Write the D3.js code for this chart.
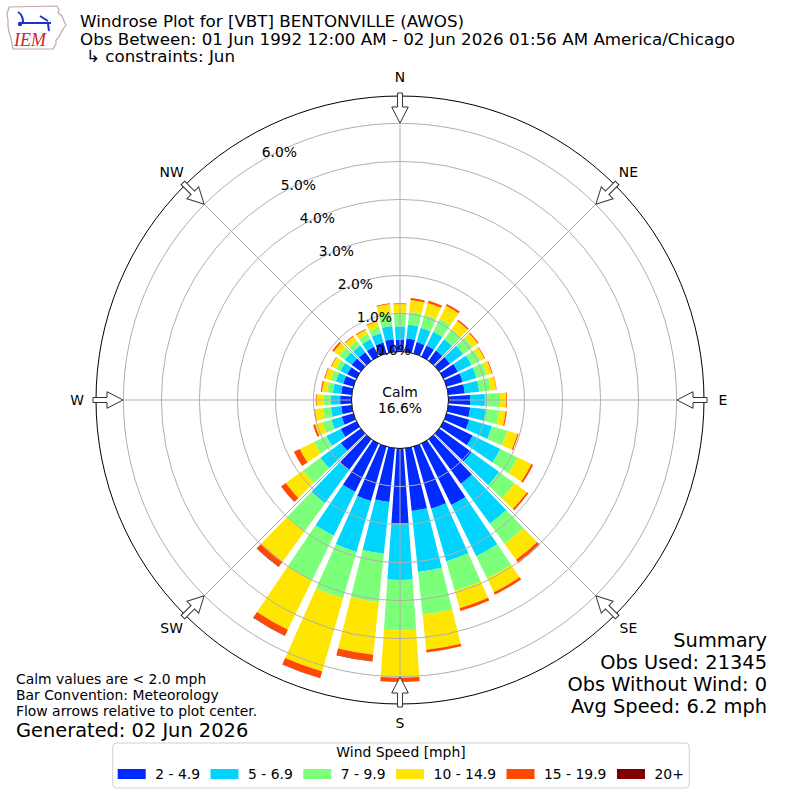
<!DOCTYPE html>
<html>
<head>
<meta charset="utf-8">
<script src="https://cdn.jsdelivr.net/npm/d3@7"></script>
<style>
  body { margin: 0; background: #fff; }
  svg { display: block; font-family: "DejaVu Sans", sans-serif; }
</style>
</head>
<body>
<script>
const directions = [0, 10, 20, 30, 40, 50, 60, 70, 80, 90, 100, 110, 120, 130, 140, 150, 160, 170,
  180, 190, 200, 210, 220, 230, 240, 250, 260, 270, 280, 290, 300, 310, 320, 330, 340, 350];
const speedBins = ["2 - 4.9", "5 - 6.9", "7 - 9.9", "10 - 14.9", "15 - 19.9", "20+"];
const binColors = ["#002aff", "#00d4ff", "#7cff79", "#ffe600", "#ff4800", "#800000"];

// percent of observations, per direction, one array per speed bin
const pct2to5 = [0.31, 0.35, 0.31, 0.32, 0.33, 0.35, 0.42, 0.44, 0.44, 0.57, 0.58, 0.62, 0.85, 1.05, 1.45, 1.80, 1.70, 1.66,
  1.97, 1.42, 1.49, 1.41, 1.00, 0.65, 0.46, 0.32, 0.28, 0.30, 0.28, 0.28, 0.27, 0.30, 0.28, 0.28, 0.30, 0.33];
const pct5to7 = [0.35, 0.37, 0.39, 0.40, 0.37, 0.43, 0.40, 0.38, 0.38, 0.39, 0.41, 0.62, 0.81, 0.90, 1.30, 1.50, 1.44, 1.61,
  1.49, 1.37, 1.39, 1.29, 1.08, 0.66, 0.42, 0.28, 0.27, 0.25, 0.22, 0.20, 0.20, 0.22, 0.22, 0.22, 0.25, 0.35];
const pct7to10 = [0.33, 0.33, 0.36, 0.38, 0.32, 0.30, 0.26, 0.28, 0.30, 0.40, 0.36, 0.42, 0.51, 0.50, 0.65, 0.65, 0.81, 1.13,
  1.32, 1.28, 1.27, 1.30, 0.92, 0.57, 0.36, 0.25, 0.22, 0.19, 0.15, 0.14, 0.13, 0.18, 0.15, 0.16, 0.17, 0.31];
const pct10to15 = [0.26, 0.32, 0.32, 0.38, 0.27, 0.17, 0.12, 0.14, 0.15, 0.16, 0.17, 0.28, 0.40, 0.40, 0.52, 0.40, 0.47, 0.93,
  1.25, 1.39, 2.00, 1.45, 0.98, 0.56, 0.42, 0.20, 0.21, 0.18, 0.14, 0.16, 0.13, 0.18, 0.15, 0.12, 0.15, 0.27];
const pct15to20 = [0.02, 0.05, 0.06, 0.05, 0.04, 0.03, 0.02, 0.02, 0.01, 0.02, 0.03, 0.03, 0.05, 0.05, 0.10, 0.07, 0.08, 0.07,
  0.11, 0.17, 0.18, 0.17, 0.16, 0.15, 0.17, 0.05, 0.02, 0.02, 0.03, 0.02, 0.02, 0.05, 0.02, 0.02, 0.02, 0.02];
const pct20up = [0, 0, 0, 0, 0, 0, 0, 0, 0, 0, 0, 0, 0, 0, 0, 0, 0, 0,
  0, 0.01, 0.01, 0.01, 0.01, 0, 0, 0, 0, 0, 0, 0, 0, 0, 0, 0, 0, 0];
const calmPct = 16.6;

const ringTicks = [0, 1, 2, 3, 4, 5, 6];
const compassLabels = ["N", "NE", "E", "SE", "S", "SW", "W", "NW"];
const compassAngles = [0, 45, 90, 135, 180, 225, 270, 315];

const titleLines = [
  "Windrose Plot for [VBT] BENTONVILLE (AWOS)",
  "Obs Between: 01 Jun 1992 12:00 AM - 02 Jun 2026 01:56 AM America/Chicago",
  "\u21b3 constraints: Jun"
];
const noteLines = ["Calm values are < 2.0 mph", "Bar Convention: Meteorology", "Flow arrows relative to plot center."];
const generatedText = "Generated: 02 Jun 2026";
const summaryLines = ["Summary", "Obs Used: 21345", "Obs Without Wind: 0", "Avg Speed: 6.2 mph"];

let width = 800, height = 800,
  cx = 400, cy = 400,
  rCalm = 48.5, rOuter = 304;

let svg = d3.select("body").append("svg")
  .attr("width", width)
  .attr("height", height);

// logo
let logo = svg.append("g");
logo.append("path")
  .attr("d", "M9,7 L57,6 L59,10 L58,13 L62,16 L64,21 L66,25 L63,29 L61,33 L59,37 L56,40 L56,44 L53,49 L13,49 L12,44 L11,38 L9,32 L8,26 L8,20 L7,14 Z")
  .attr("fill", "#fff")
  .attr("stroke", "#c4a6a6")
  .attr("stroke-width", 1.2);
logo.append("path")
  .attr("d", "M21,23 L51,23 M18,12 Q23,15 23,22 M40,16 L48,21 M48,24 L49,31")
  .attr("fill", "none")
  .attr("stroke", "#1f2fd0")
  .attr("stroke-width", 2);
logo.append("circle").attr("cx", 20).attr("cy", 24).attr("r", 2.2).attr("fill", "#1f2fd0");
logo.append("text")
  .attr("x", 14).attr("y", 46)
  .attr("font-family", "Liberation Serif, serif")
  .attr("font-style", "italic")
  .attr("font-size", 18)
  .attr("fill", "#d02424")
  .text("IEM");

// titles
svg.append("g").selectAll("text").data(titleLines).enter().append("text")
  .attr("x", (d, i) => i < 2 ? 80 : 86)
  .attr("y", (d, i) => 27 + i * 17.5)
  .attr("font-size", 16.7)
  .text(d => d);

let r = d3.scaleLinear().domain([0, 6.72]).range([rCalm, rOuter]);
let a = d3.scaleLinear().domain([0, 360]).range([0, 2 * Math.PI]);
let color = d3.scaleOrdinal().domain(speedBins).range(binColors);

let rows = directions.map((d, i) => ({
  dir: d,
  "2 - 4.9": pct2to5[i],
  "5 - 6.9": pct5to7[i],
  "7 - 9.9": pct7to10[i],
  "10 - 14.9": pct10to15[i],
  "15 - 19.9": pct15to20[i],
  "20+": pct20up[i]
}));
let series = d3.stack().keys(speedBins)(rows);

let arc = d3.arc()
  .innerRadius(d => r(d[0]))
  .outerRadius(d => r(d[1]))
  .startAngle(d => a(d.data.dir - 4))
  .endAngle(d => a(d.data.dir + 4));

let g = svg.append("g").attr("transform", `translate(${cx},${cy})`);

g.append("g").selectAll("g").data(series).enter().append("g")
  .attr("fill", d => color(d.key))
  .selectAll("path").data(d => d).enter().append("path")
  .attr("d", arc);

// grid over the bars
g.append("g").selectAll("circle").data(ringTicks.slice(1)).enter().append("circle")
  .attr("r", d => r(d))
  .attr("fill", "none")
  .attr("stroke", "#b0b0b0")
  .attr("stroke-width", 1);

g.append("g").selectAll("line").data(compassAngles).enter().append("line")
  .attr("x1", d => rCalm * Math.sin(a(d)))
  .attr("y1", d => -rCalm * Math.cos(a(d)))
  .attr("x2", d => rOuter * Math.sin(a(d)))
  .attr("y2", d => -rOuter * Math.cos(a(d)))
  .attr("stroke", "#b0b0b0")
  .attr("stroke-width", 1);

g.append("circle")
  .attr("r", rOuter)
  .attr("fill", "none")
  .attr("stroke", "#000")
  .attr("stroke-width", 1);

// calm circle
g.append("circle")
  .attr("r", rCalm)
  .attr("fill", "#fff")
  .attr("stroke", "#000")
  .attr("stroke-width", 1);
g.append("text").attr("y", -3).attr("text-anchor", "middle").attr("font-size", 13.9).text("Calm");
g.append("text").attr("y", 13).attr("text-anchor", "middle").attr("font-size", 13.9).text(calmPct.toFixed(1) + "%");

// flow arrows pointing to the center
let arrowPts = [[-2.5, -307], [2.5, -307], [2.5, -293], [8.3, -293], [0, -277], [-8.3, -293], [-2.5, -293]];
g.append("g").selectAll("polygon").data(compassAngles).enter().append("polygon")
  .attr("points", arrowPts.map(p => p.join(",")).join(" "))
  .attr("transform", d => `rotate(${d})`)
  .attr("fill", "#fff")
  .attr("stroke", "#333")
  .attr("stroke-width", 1);

// compass labels
g.append("g").selectAll("text").data(compassLabels).enter().append("text")
  .attr("x", (d, i) => 323 * Math.sin(a(compassAngles[i])))
  .attr("y", (d, i) => -323 * Math.cos(a(compassAngles[i])))
  .attr("dy", "0.36em")
  .attr("text-anchor", "middle")
  .attr("font-size", 13.9)
  .text(d => d);

// ring labels along 330 deg
let labelAngle = a(-30);
g.append("g").selectAll("text").data(ringTicks).enter().append("text")
  .attr("x", d => r(d) * Math.sin(labelAngle))
  .attr("y", d => -r(d) * Math.cos(labelAngle) - 3)
  .attr("font-size", 13.9)
  .text(d => d.toFixed(1) + "%");

// notes bottom left
svg.append("g").selectAll("text").data(noteLines).enter().append("text")
  .attr("x", 16)
  .attr("y", (d, i) => 684 + i * 16)
  .attr("font-size", 13.9)
  .text(d => d);
svg.append("text")
  .attr("x", 16).attr("y", 737)
  .attr("font-size", 19.4)
  .text(generatedText);

// summary bottom right
svg.append("g").selectAll("text").data(summaryLines).enter().append("text")
  .attr("x", 767)
  .attr("y", (d, i) => 647 + i * 22)
  .attr("text-anchor", "end")
  .attr("font-size", 19.4)
  .text(d => d);

// legend
let legend = svg.append("g");
let box = legend.append("rect")
  .attr("y", 743).attr("height", 45)
  .attr("rx", 4)
  .attr("fill", "#fff")
  .attr("stroke", "#d0d0d0")
  .attr("stroke-width", 1);
let items = legend.append("g");
let xPos = 0;
speedBins.forEach(k => {
  items.append("rect")
    .attr("x", xPos).attr("y", 769)
    .attr("width", 28).attr("height", 10)
    .attr("fill", color(k));
  let t = items.append("text")
    .attr("x", xPos + 37.5).attr("y", 779)
    .attr("font-size", 13.9)
    .text(k);
  xPos += 37.5 + t.node().getComputedTextLength() + 10.5;
});
let boxWidth = xPos;
let boxLeft = 401 - boxWidth / 2;
box.attr("x", boxLeft).attr("width", boxWidth);
items.attr("transform", `translate(${boxLeft + 5},0)`);
legend.append("text")
  .attr("x", 401).attr("y", 757)
  .attr("text-anchor", "middle")
  .attr("font-size", 13.9)
  .text("Wind Speed [mph]");
</script>
</body>
</html>
